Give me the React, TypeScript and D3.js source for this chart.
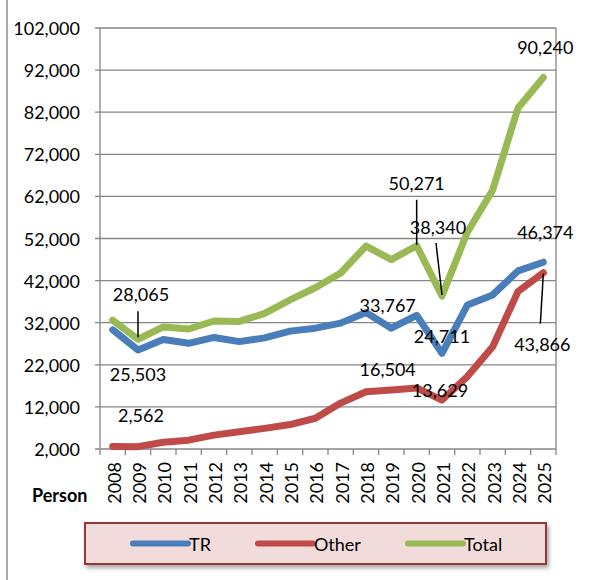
import React from "react";
import * as d3 from "d3";

const WIDTH = 598;
const HEIGHT = 580;
const PLOT = { left: 100, right: 556, top: 28, bottom: 449 };
const FONT = "Lato, 'Open Sans', sans-serif";
const GRID = "#868686";

const years = ["2008", "2009", "2010", "2011", "2012", "2013", "2014", "2015", "2016",
  "2017", "2018", "2019", "2020", "2021", "2022", "2023", "2024", "2025"];
const tr = [30300, 25503, 28000, 27100, 28500, 27500, 28400, 30000, 30700,
  31900, 34400, 30700, 33767, 24711, 36200, 38600, 44300, 46374];
const other = [2600, 2562, 3600, 4100, 5300, 6100, 6900, 7800, 9300,
  12900, 15600, 16000, 16504, 13629, 19200, 26300, 39400, 43866];
const total = [32600, 28065, 31000, 30500, 32400, 32300, 34200, 37400, 40300,
  43800, 50200, 47000, 50271, 38340, 53500, 63500, 83000, 90240];
const yTicks = [2000, 12000, 22000, 32000, 42000, 52000, 62000, 72000, 82000, 92000, 102000];

const series = [
  { name: "TR", color: "#4a7ebb", values: tr },
  { name: "Other", color: "#be4b48", values: other },
  { name: "Total", color: "#98b954", values: total },
];

// data labels: which point, label offset from the point, optional leader line
const labels = [
  { s: 2, i: 1, dx: 3, dy: -45, leader: [-28, -2] },
  { s: 0, i: 1, dx: 0, dy: 24 },
  { s: 1, i: 1, dx: 3, dy: -32 },
  { s: 2, i: 12, dx: 0, dy: -63, leader: [-46, -1] },
  { s: 2, i: 13, dx: -4, dy: -69, leader: [-53, -1], leaderDx: -6 },
  { s: 2, i: 17, dx: 2, dy: -31 },
  { s: 0, i: 17, dx: 2, dy: -30 },
  { s: 0, i: 12, dx: -29, dy: -10 },
  { s: 0, i: 13, dx: 0, dy: -17 },
  { s: 1, i: 12, dx: -29, dy: -19 },
  { s: 1, i: 13, dx: -2, dy: -10 },
  { s: 1, i: 17, dx: -1, dy: 71, leader: [51, 1], leaderDx: -3 },
];

export default function App() {
  const x = d3.scaleBand<string>().domain(years).range([PLOT.left, PLOT.right]);
  const y = d3.scaleLinear().domain([2000, 102000]).range([PLOT.bottom, PLOT.top]);
  const cx = (i: number) => (x(years[i]) as number) + x.bandwidth() / 2;
  const fmt = d3.format(",");

  const line = d3
    .line<number>()
    .x((_, i) => cx(i))
    .y((d) => y(d));

  const boundaries = d3.range(years.length + 1).map((i) => PLOT.left + i * x.bandwidth());

  return (
    <svg width={WIDTH} height={HEIGHT} style={{ position: "absolute", left: 0, top: 0, background: "#fff" }}
      fontFamily={FONT}>
      <defs>
        <filter id="shadow" x="-5%" y="-20%" width="110%" height="150%">
          <feDropShadow dx="2" dy="3" stdDeviation="2" floodColor="#000" floodOpacity="0.35" />
        </filter>
      </defs>

      {/* chart frame, only the left edge is visible */}
      <line x1={7} x2={7} y1={0} y2={HEIGHT} stroke="#8c8c8c" strokeWidth={1.5} />

      {/* gridlines + y ticks */}
      {yTicks.map((t) => (
        <g key={t}>
          <line x1={PLOT.left - 5} x2={PLOT.right} y1={y(t)} y2={y(t)} stroke={GRID} strokeWidth={1.3} />
          <text x={80} y={y(t)} textAnchor="end" dominantBaseline="central" fontSize={18} fill="#000">
            {fmt(t)}
          </text>
        </g>
      ))}
      <line x1={PLOT.left} x2={PLOT.left} y1={PLOT.top} y2={PLOT.bottom} stroke={GRID} strokeWidth={1.3} />
      <line x1={PLOT.right} x2={PLOT.right} y1={PLOT.top} y2={PLOT.bottom} stroke={GRID} strokeWidth={1.3} />

      {/* x ticks + year labels */}
      {boundaries.map((b, i) => (
        <line key={i} x1={b} x2={b} y1={PLOT.bottom} y2={PLOT.bottom + 6} stroke={GRID} strokeWidth={1.3} />
      ))}
      {years.map((yr, i) => (
        <text key={yr} transform={`translate(${cx(i) + 1},462) rotate(-90)`} textAnchor="end"
          dominantBaseline="central" fontSize={18} fill="#000">
          {yr}
        </text>
      ))}
      <text x={32} y={495} dominantBaseline="central" fontSize={18} fontWeight="bold" fill="#000">Person</text>

      {/* series lines */}
      {series.map((s) => (
        <path key={s.name} d={line(s.values) ?? ""} fill="none" stroke={s.color} strokeWidth={7}
          strokeLinejoin="round" strokeLinecap="round" />
      ))}

      {/* data labels */}
      {labels.map((l, k) => {
        const v = series[l.s].values[l.i];
        const px = cx(l.i);
        const py = y(v);
        return (
          <g key={k}>
            {l.leader && (
              <line x1={px + (l.leaderDx ?? 0)} y1={py + l.leader[0]} x2={px} y2={py + l.leader[1]}
                stroke="#000" strokeWidth={1.5} />
            )}
            <text x={px + l.dx} y={py + l.dy} textAnchor="middle" dominantBaseline="central"
              fontSize={18} fill="#000">
              {fmt(v)}
            </text>
          </g>
        );
      })}

      {/* legend */}
      <rect x={85} y={523} width={461} height={41} fill="#f2dcdb" stroke="#953735" strokeWidth={2}
        filter="url(#shadow)" />
      {series.map((s, i) => {
        const lx = [133, 258, 408][i];
        return (
          <g key={s.name}>
            <line x1={lx} x2={lx + 55} y1={543.5} y2={543.5} stroke={s.color} strokeWidth={6} strokeLinecap="round" />
            <text x={lx + 56} y={543.5} dominantBaseline="central" fontSize={18} fill="#000">{s.name}</text>
          </g>
        );
      })}
    </svg>
  );
}
